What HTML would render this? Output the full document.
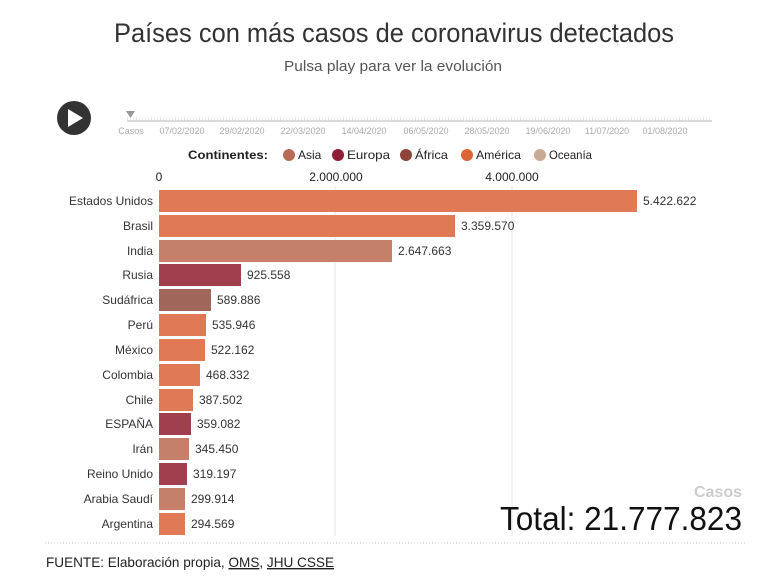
<!DOCTYPE html>
<html><head><meta charset="utf-8"><style>
html,body{margin:0;padding:0;background:#fff;}
svg{display:block;font-family:"Liberation Sans",sans-serif;}
</style></head><body>
<svg width="760" height="581" viewBox="0 0 760 581" xmlns="http://www.w3.org/2000/svg">
<text x="394" y="42" text-anchor="middle" font-size="27" fill="#333" textLength="560" lengthAdjust="spacingAndGlyphs">Países con más casos de coronavirus detectados</text>
<text x="393" y="71" text-anchor="middle" font-size="15" fill="#555" textLength="218" lengthAdjust="spacingAndGlyphs">Pulsa play para ver la evolución</text>
<circle cx="74" cy="118" r="17" fill="#333"/>
<polygon points="68,109 68,127 83,118" fill="#fff"/>
<line x1="127" y1="121" x2="712" y2="121" stroke="#bbb" stroke-width="1"/>
<line x1="127" y1="119" x2="712" y2="119" stroke="#ddd" stroke-width="3" stroke-dasharray="0.6,2.4"/>
<polygon points="126,111 135,111 130.5,118" fill="#999"/>
<g font-size="9" fill="#aaa" text-anchor="middle">
<text x="131" y="134">Casos</text>
<text x="182" y="134">07/02/2020</text>
<text x="242" y="134">29/02/2020</text>
<text x="303" y="134">22/03/2020</text>
<text x="364" y="134">14/04/2020</text>
<text x="426" y="134">06/05/2020</text>
<text x="487" y="134">28/05/2020</text>
<text x="548" y="134">19/06/2020</text>
<text x="607" y="134">11/07/2020</text>
<text x="665" y="134">01/08/2020</text>
</g>
<text x="188" y="159" font-size="12" font-weight="bold" fill="#222" textLength="80" lengthAdjust="spacingAndGlyphs">Continentes:</text>
<g font-size="12" fill="#222">
<circle cx="289" cy="155" r="6" fill="#b86c56"/><text x="298" y="159">Asia</text>
<circle cx="338" cy="155" r="6" fill="#8e1f36"/><text x="347" y="159" textLength="43" lengthAdjust="spacingAndGlyphs">Europa</text>
<circle cx="406" cy="155" r="6" fill="#8e4438"/><text x="415" y="159" textLength="33" lengthAdjust="spacingAndGlyphs">África</text>
<circle cx="467" cy="155" r="6" fill="#dd6437"/><text x="476" y="159" textLength="45" lengthAdjust="spacingAndGlyphs">América</text>
<circle cx="540" cy="155" r="6" fill="#c8a995"/><text x="549" y="159" textLength="43" lengthAdjust="spacingAndGlyphs">Oceanía</text>
</g>
<g font-size="12" fill="#222" text-anchor="middle">
<text x="159" y="181">0</text><text x="336" y="181">2.000.000</text><text x="512" y="181">4.000.000</text>
</g>
<line x1="335" y1="186" x2="335" y2="536" stroke="#e4e4e4"/>
<line x1="512" y1="186" x2="512" y2="536" stroke="#e4e4e4"/>
<g font-size="12" fill="#333">
<g text-anchor="end">
<text x="153" y="205">Estados Unidos</text>
<text x="153" y="230">Brasil</text>
<text x="153" y="255">India</text>
<text x="153" y="279">Rusia</text>
<text x="153" y="304">Sudáfrica</text>
<text x="153" y="329">Perú</text>
<text x="153" y="354">México</text>
<text x="153" y="379">Colombia</text>
<text x="153" y="404">Chile</text>
<text x="153" y="428">ESPAÑA</text>
<text x="153" y="453">Irán</text>
<text x="153" y="478">Reino Unido</text>
<text x="153" y="503">Arabia Saudí</text>
<text x="153" y="528">Argentina</text>
</g>
<rect x="159" y="190" width="478" height="22" fill="#e07956"/>
<rect x="159" y="215" width="296" height="22" fill="#e07956"/>
<rect x="159" y="240" width="233" height="22" fill="#c48069"/>
<rect x="159" y="264" width="82" height="22" fill="#a0404f"/>
<rect x="159" y="289" width="52" height="22" fill="#a0665a"/>
<rect x="159" y="314" width="47" height="22" fill="#e07956"/>
<rect x="159" y="339" width="46" height="22" fill="#e07956"/>
<rect x="159" y="364" width="41" height="22" fill="#e07956"/>
<rect x="159" y="389" width="34" height="22" fill="#e07956"/>
<rect x="159" y="413" width="32" height="22" fill="#a0404f"/>
<rect x="159" y="438" width="30" height="22" fill="#c48069"/>
<rect x="159" y="463" width="28" height="22" fill="#a0404f"/>
<rect x="159" y="488" width="26" height="22" fill="#c48069"/>
<rect x="159" y="513" width="26" height="22" fill="#e07956"/>
<text x="643" y="205">5.422.622</text>
<text x="461" y="230">3.359.570</text>
<text x="398" y="255">2.647.663</text>
<text x="247" y="279">925.558</text>
<text x="217" y="304">589.886</text>
<text x="212" y="329">535.946</text>
<text x="211" y="354">522.162</text>
<text x="206" y="379">468.332</text>
<text x="199" y="404">387.502</text>
<text x="197" y="428">359.082</text>
<text x="195" y="453">345.450</text>
<text x="193" y="478">319.197</text>
<text x="191" y="503">299.914</text>
<text x="191" y="528">294.569</text>
</g>
<text x="742" y="497" text-anchor="end" font-size="16" font-weight="bold" fill="#ccc">Casos</text>
<text x="742" y="530" text-anchor="end" font-size="33" fill="#111" textLength="242" lengthAdjust="spacingAndGlyphs">Total: 21.777.823</text>
<line x1="45" y1="543" x2="745" y2="543" stroke="#ccc" stroke-dasharray="1,2"/>
<text x="46" y="567" font-size="14" fill="#222" textLength="288" lengthAdjust="spacingAndGlyphs">FUENTE: Elaboración propia, <tspan text-decoration="underline">OMS</tspan>, <tspan text-decoration="underline">JHU CSSE</tspan></text>
</svg>
</body></html>
